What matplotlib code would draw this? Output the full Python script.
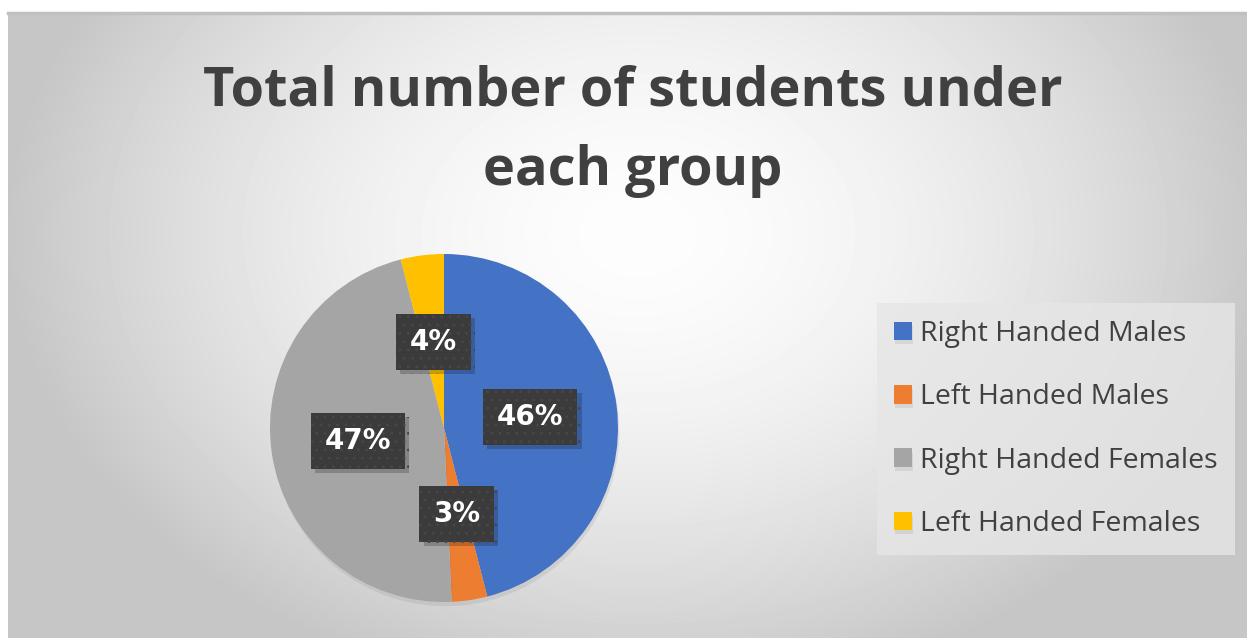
import matplotlib
matplotlib.use('Agg')
import matplotlib.pyplot as plt
import matplotlib.patheffects as pe
import numpy as np

# data (share of students, %)
groups = ['Right Handed Males', 'Left Handed Males', 'Right Handed Females', 'Left Handed Females']
shares = [46.0, 3.3, 46.7, 4.0]
colors = ['#4472C4', '#ED7D31', '#A5A5A5', '#FFC000']
title_lines = ['Total number of students under', 'each group']

W, H = 1247, 638
fig = plt.figure(figsize=(W / 100, H / 100), dpi=100)
fig.patch.set_facecolor('white')

# radial gradient background of the chart area
bg = fig.add_axes([8 / W, 0, (W - 8) / W, (H - 13) / H])
bg.set_axis_off()
yy, xx = np.mgrid[0:H - 13, 0:W - 8]
d = np.sqrt(((xx - 630) / 650.0) ** 2 + ((yy - 220) / 480.0) ** 2)
v = np.clip(253 - 58 * d ** 1.7, 198, 255) / 255.0
bg.imshow(v, cmap='gray', vmin=0, vmax=1, aspect='auto', interpolation='bilinear')
fig.add_artist(plt.Line2D([8 / W, 1], [1 - 12.5 / H, 1 - 12.5 / H], color='#c0c0c0', lw=2.5,
                          transform=fig.transFigure))

# title
fig.text(633 / W, 1 - 106 / H, title_lines[0], ha='center', va='baseline', fontsize=39,
         fontweight='bold', family='Open Sans', color='#404040')
fig.text(633 / W, 1 - 185 / H, title_lines[1], ha='center', va='baseline', fontsize=39,
         fontweight='bold', family='Open Sans', color='#404040')

# pie
cx, cy, r = 444, 428, 174
ax = fig.add_axes([(cx - r) / W, (H - cy - r) / H, 2 * r / W, 2 * r / H])
plt.rcParams['hatch.color'] = '#474747'
plt.rcParams['hatch.linewidth'] = 0.8
wedges, texts, autotexts = ax.pie(shares, colors=colors, startangle=90, counterclock=False,
                                  autopct='%.0f%%', pctdistance=0.5,
                                  wedgeprops=dict(linewidth=0),
                                  textprops=dict(color='white', fontsize=20, fontweight='bold',
                                                 family='DejaVu Sans'))
ax.set_xlim(-1, 1)
ax.set_ylim(-1, 1)
ax.set_aspect('equal')
ax.set_axis_off()
for w in wedges:
    w.set_path_effects([pe.SimplePatchShadow(offset=(1, -3), shadow_rgbFace='#777777', alpha=0.15),
                        pe.Normal()])
for t in autotexts:
    t.set_bbox(dict(boxstyle='square,pad=0.5', facecolor='#3b3b3b', edgecolor='#474747',
                    linewidth=0, hatch='..'))
    t.get_bbox_patch().set_path_effects([pe.SimplePatchShadow(offset=(3, -3), alpha=0.22),
                                         pe.Normal()])

# legend
leg = fig.legend(wedges, groups, loc='upper left', bbox_to_anchor=(877 / W, 1 - 303 / H),
                 frameon=True, fancybox=False, facecolor='#e6e6e6', edgecolor='none',
                 framealpha=0.8, handlelength=0.62, handleheight=0.62, handletextpad=0.3,
                 labelspacing=1.24, borderpad=0.6, borderaxespad=0,
                 prop=dict(family='Open Sans', size=20.5))
for t in leg.get_texts():
    t.set_color('#404040')

fig.savefig('out.png', dpi=100)
